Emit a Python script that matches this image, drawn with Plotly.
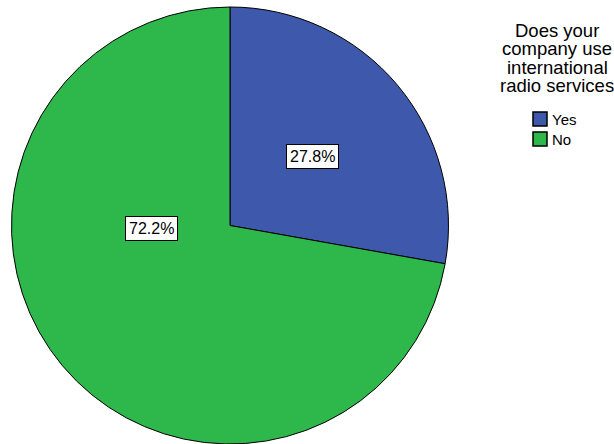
import math
import plotly.graph_objects as go

categories = ["Yes", "No"]
percent_values = [27.8, 72.2]
slice_colors = ["#3E58AC", "#2EB84C"]
legend_title_lines = ["Does your", "company use", "international", "radio services"]

W, H = 614, 444
cx, cy, R = 230.0, 225.5, 218.5
FONT = "Liberation Sans, Arial"

fig = go.Figure(go.Pie(
    labels=categories,
    values=percent_values,
    sort=False,
    direction="clockwise",
    rotation=0,
    marker=dict(colors=slice_colors, line=dict(color="black", width=1)),
    textinfo="none",
    hoverinfo="label+percent",
    domain=dict(x=[(cx - R) / W, (cx + R) / W], y=[0, 2 * R / H]),
    showlegend=False,
))

def px(x):
    return x / W

def py(y):
    return 1 - y / H

# label placement (angle clockwise from 12 o'clock in degrees, radius fraction)
total = sum(percent_values)
mids = []
start = 0.0
for v in percent_values:
    span = v / total * 360
    mids.append(start + span / 2)
    start += span
placements = [(mids[0], 0.49), (268.0, 0.36)]

annotations = []
for v, (ang, rf) in zip(percent_values, placements):
    a = math.radians(ang)
    x = cx + rf * R * math.sin(a)
    y = cy - rf * R * math.cos(a)
    annotations.append(dict(
        x=px(x), y=py(y), xref="paper", yref="paper",
        text=f"{v:.1f}%", showarrow=False,
        font=dict(family=FONT, size=16, color="black"),
        bgcolor="white", bordercolor="black", borderwidth=1, borderpad=3,
        xanchor="center", yanchor="middle",
    ))

# legend title, one line per annotation for tight line spacing
for i, line in enumerate(legend_title_lines):
    annotations.append(dict(
        x=px(557), y=py(30.7 + 18.3 * i), xref="paper", yref="paper",
        text=line, showarrow=False,
        font=dict(family=FONT, size=18.5, color="black"),
        xanchor="center", yanchor="middle", align="center",
        borderpad=0,
    ))

# legend entries
shapes = []
for i, (cat, col) in enumerate(zip(categories, slice_colors)):
    top = 112 + 20 * i
    shapes.append(dict(
        type="rect", xref="paper", yref="paper",
        x0=px(533), x1=px(547), y0=py(top + 14), y1=py(top),
        fillcolor=col, line=dict(color="black", width=1.5),
    ))
    annotations.append(dict(
        x=px(550), y=py(top + 7.5), xref="paper", yref="paper",
        text=cat, showarrow=False,
        font=dict(family=FONT, size=15, color="black"),
        xanchor="left", yanchor="middle",
    ))

fig.update_layout(
    width=W, height=H,
    margin=dict(l=0, r=0, t=0, b=0),
    paper_bgcolor="white",
    plot_bgcolor="white",
    annotations=annotations,
    shapes=shapes,
)

fig.write_html(
    "out.html",
    config={"displayModeBar": False},
    post_script="document.body.style.margin='0px';document.body.style.overflow='hidden';",
)
